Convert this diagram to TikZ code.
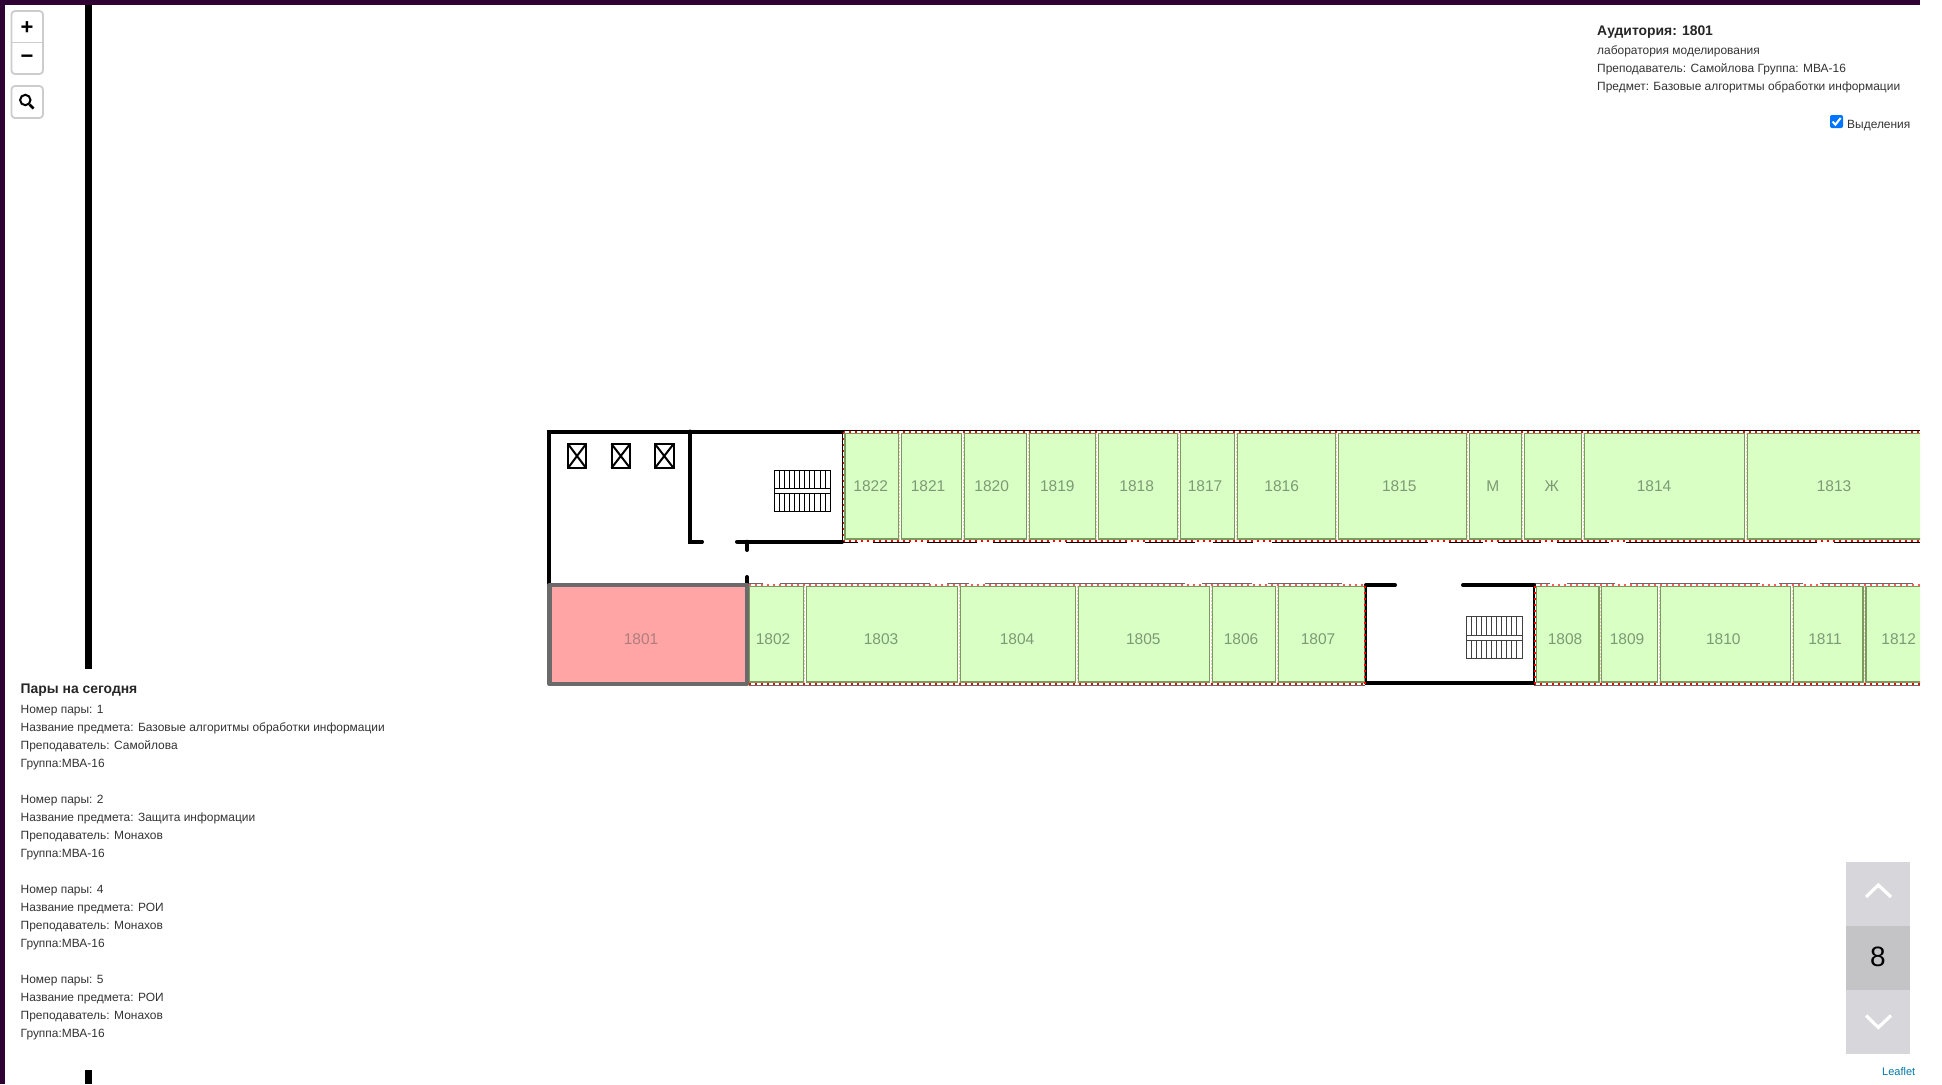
\documentclass[tikz,border=0pt]{standalone}
\usepackage{fontspec}
\setmainfont{Liberation Sans}
\definecolor{band}{HTML}{2F0033}
\definecolor{roomfill}{HTML}{D9FFC4}
\definecolor{roomedge}{HTML}{7A9A5E}
\definecolor{roomtxt}{HTML}{7C9A74}
\definecolor{selfill}{HTML}{FFA5A5}
\definecolor{seledge}{HTML}{6A6A6A}
\definecolor{seltxt}{HTML}{B27C7C}
\definecolor{bodytxt}{HTML}{333333}
\definecolor{btnedge}{HTML}{CCCCCC}
\definecolor{pagerlight}{HTML}{D6D6DB}
\definecolor{pagerdark}{HTML}{C4C4C6}
\definecolor{sep}{HTML}{EAD0B4}
\definecolor{leaf}{HTML}{0078A8}
\definecolor{check}{HTML}{0075FF}
\tikzset{
  x=1pt,y=-1pt,
  room/.style={fill=roomfill,draw=roomedge,line width=1.3pt},
  roomlabel/.style={font=\fontsize{15.5}{18}\selectfont,text=roomtxt,inner sep=0pt},
  wall/.style={draw=black,line width=4pt},
  thinwall/.style={draw=black,line width=1.6pt},
  reddots/.style={draw=red,line width=1.5pt,dash pattern=on 1.5pt off 4.5pt},
  whiteline/.style={draw=white,line width=2.2pt},
  sepline/.style={draw=sep,line width=1pt,dash pattern=on 2pt off 1.5pt},
  lift/.style={draw=black,line width=2pt,fill=white},
  stairs/.style={draw=black,line width=0.9pt},
  stairsb/.style={draw=black!75,line width=0.9pt},
  panel/.style={anchor=base west,inner sep=0pt,font=\fontsize{11.95}{14}\selectfont,text=bodytxt},
  panelhead/.style={anchor=base west,inner sep=0pt,font=\fontsize{13.9}{16}\bfseries\selectfont,text=black!85},
  btn/.style={draw=btnedge,line width=1.8pt,rounded corners=3.5pt,fill=white},
  chevron/.style={draw=white,line width=3.2pt}
}
\begin{document}
\begin{tikzpicture}
\useasboundingbox (0,0) rectangle (1942,1084);
\fill[white] (0,0) rectangle (1942,1084);
\begin{scope}
\clip (0,0) rectangle (1920,1084);
% rooms, top row
\foreach \id/\lab/\a/\b/\t in {
 r1822/1822/845/898.3/870.7, r1821/1821/901.3/961.7/928, r1820/1820/964.3/1026.7/991.7,
 r1819/1819/1029.3/1095.3/1057.3, r1818/1818/1098.3/1177.3/1136.7, r1817/1817/1180.3/1234.7/1205,
 r1816/1816/1237.7/1335.3/1281.7, r1815/1815/1338.3/1466.7/1399.3, rM/М/1469.3/1521.7/1492.7,
 rZh/Ж/1524.3/1581.7/1551.7, r1814/1814/1584.3/1744.7/1654, r1813/1813/1747.3/1930/1834}{
  \draw[room] (\a,433.5) rectangle (\b,539);
  \node[roomlabel] (\id) at (\t,486.5) {\lab};
}
% rooms, bottom row
\foreach \id/\lab/\a/\b/\t in {
 r1802/1802/749/803.3/773, r1803/1803/806.3/957.7/881, r1804/1804/960.3/1075.7/1017,
 r1805/1805/1078.3/1209.7/1143.3, r1806/1806/1212.3/1275.7/1241, r1807/1807/1278.3/1364.3/1318,
 r1808/1808/1536.3/1599/1565, r1809/1809/1601.7/1657.7/1627, r1810/1810/1660.3/1790.7/1723.3,
 r1811/1811/1793.7/1863/1825, r1812/1812/1866/1930/1898.7}{
  \draw[room] (\a,586.7) rectangle (\b,682);
  \node[roomlabel] (\id) at (\t,639.5) {\lab};
}
% separators
\foreach \x in {899.8,963,1028,1096.8,1178.8,1236.2,1336.8,1467.8,1522.8,1583,1746}{
  \draw[sepline] (\x,433) -- (\x,540);
}
\foreach \x in {804.8,959,1077,1211,1277,1600.3,1659,1792.2,1864.5}{
  \draw[sepline] (\x,586) -- (\x,683);
}
% outer lines of the room blocks
\draw[draw=black,line width=1.2pt] (842,430.4) -- (1920,430.4);
\foreach \a/\b in {842/858,873/910,927/977,993/1050,1066/1127,1145/1195,1213/1253,1272/1428,1449/1483,1498/1541,1557/1609,1626/1817,1834/1920}{
  \draw[draw=black,line width=1.2pt] (\a,542.6) -- (\b,542.6);
}
\foreach \a/\b in {749/763,780/930,947/969,985/1185,1202/1252,1268/1342,1534/1550,1567/1615,1630/1760,1779/1803,1820/1913}{
  \draw[draw=seledge,line width=1.2pt] (\a,583.6) -- (\b,583.6);
}
\draw[draw=seledge,line width=1.2pt] (749,685.7) -- (1365,685.7);
\draw[draw=seledge,line width=1.2pt] (1534,685.7) -- (1920,685.7);
\foreach \a/\b/\y in {843/1920/432,843/1920/541,749/1365/684.2,1534/1920/684.2}{
  \draw[whiteline] (\a,\y) -- (\b,\y);
  \draw[reddots] (\a,\y) -- (\b,\y);
}
\foreach \a/\b/\y in {749/1365/585,1534/1920/585}{
  \draw[whiteline] (\a,\y) -- (\b,\y);
  \draw[reddots,draw opacity=0.65] (\a,\y) -- (\b,\y);
}
% black walls
\draw[wall,line cap=round] (549,584) -- (549,431.5) -- (842,431.5);
\draw[wall,line cap=round] (690,431.5) -- (690,541.7) -- (702,541.7);
\draw[wall,line cap=round] (737,541.7) -- (842,541.7);
\draw[wall,line cap=round] (747,541.7) -- (747,550);
\draw[wall,line cap=round] (747,577) -- (747,583);
\draw[wall,line cap=round] (1366,585) -- (1395,585);
\draw[wall,line cap=round] (1463,585) -- (1534,585);
\draw[wall] (1365,683) -- (1534,683);
\draw[thinwall] (842.6,431) -- (842.6,542);
\draw[thinwall] (1366,585) -- (1366,685);
\draw[thinwall] (1534,585) -- (1534,685);
\foreach \x/\ya/\yb in {843.7/432/541,1364.8/586/684,1535/586/684}{
  \draw[reddots] (\x,\ya) -- (\x,\yb);
}
% lifts
\foreach \a/\b in {568/586,611.5/630,655/673.5}{
  \draw[lift] (\a,444) rectangle (\b,468);
  \draw[lift] (\a,444) -- (\b,468) (\b,444) -- (\a,468);
}
% stairs, upper
\draw[stairs,fill=white] (774.5,470.7) rectangle (830,511.3);
\foreach \i in {1,...,10}{
  \draw[stairs] ({774.5+5.05*\i},470.7) -- ({774.5+5.05*\i},511.3);
}
\draw[stairs,fill=white] (774.5,488.3) rectangle (830,493.3);
% stairs, lower
\draw[stairsb,fill=white] (1466,616.7) rectangle (1522,658.3);
\foreach \i in {1,...,10}{
  \draw[stairsb] ({1466+5.09*\i},616.7) -- ({1466+5.09*\i},658.3);
}
\draw[stairsb,fill=white] (1466,635.3) rectangle (1522,640);
% selected room
\draw[fill=selfill,draw=seledge,line width=4.4pt,line join=round] (549.5,584.8) rectangle (747,684);
\node[roomlabel,text=seltxt] (r1801) at (641,639.5) {1801};
\end{scope}
% window frame and the bar
\fill[band] (0,0) rectangle (1920,5);
\fill[band] (0,0) rectangle (5,1084);
\fill[black] (85,5) rectangle (92,669);
\fill[black] (85,1070) rectangle (92,1084);
% zoom controls
\draw[btn] (11.5,11) rectangle (43,74);
\draw[draw=btnedge,line width=0.8pt] (12,42.5) -- (42.5,42.5);
\node[inner sep=0pt,font=\fontsize{22}{22}\bfseries\selectfont] (zoomin) at (27,28) {+};
\node[inner sep=0pt,font=\fontsize{22}{22}\bfseries\selectfont] (zoomout) at (27,59) {−};
\draw[btn] (11.5,86) rectangle (43,118);
\draw[black,line width=2pt] (25.3,100) circle (5.2);
\draw[black,line width=2.8pt] (29.5,104.5) -- (33.5,108.5);
% info, top right
\node[panelhead] (infohead) at (1597,35) {Аудитория: 1801};
\node[panel] (info1) at (1597,54) {лаборатория моделирования};
\node[panel] (info2) at (1597,72) {Преподаватель: Самойлова Группа: МВА-16};
\node[panel] (info3) at (1597,90) {Предмет: Базовые алгоритмы обработки информации};
\fill[check,rounded corners=2pt] (1830,115) rectangle (1843,128);
\draw[white,line width=2pt] (1832.6,121.6) -- (1835.4,124.6) -- (1840.6,118);
\node[panel] (highlight) at (1847,128) {Выделения};
% today's classes
\node[panelhead] (ltitle) at (20.5,693) {Пары на сегодня};
\foreach \nm/\subj/\who/\y in {1/Базовые алгоритмы обработки информации/Самойлова/713,
  2/Защита информации/Монахов/803, 4/РОИ/Монахов/893, 5/РОИ/Монахов/983}{
  \node[panel] at (20.5,\y) {Номер пары: \nm};
  \node[panel] at (20.5,\y+18) {Название предмета: \subj};
  \node[panel] at (20.5,\y+36) {Преподаватель: \who};
  \node[panel] at (20.5,\y+54) {Группа:МВА-16};
}
% floor pager
\fill[pagerlight] (1846,862) rectangle (1910,926);
\fill[pagerdark] (1846,926) rectangle (1910,990);
\fill[pagerlight] (1846,990) rectangle (1910,1054);
\draw[chevron] (1866,897) -- (1878.3,885) -- (1891,897);
\draw[chevron] (1866,1015.5) -- (1878.3,1027.5) -- (1891,1015.5);
\node[inner sep=0pt,font=\fontsize{28}{28}\selectfont] (floor) at (1878,957) {8};
\node[anchor=base west,inner sep=0pt,font=\fontsize{11}{12}\selectfont,text=leaf] (leaflet) at (1882,1075.7) {Leaflet};
\end{tikzpicture}
\end{document}
